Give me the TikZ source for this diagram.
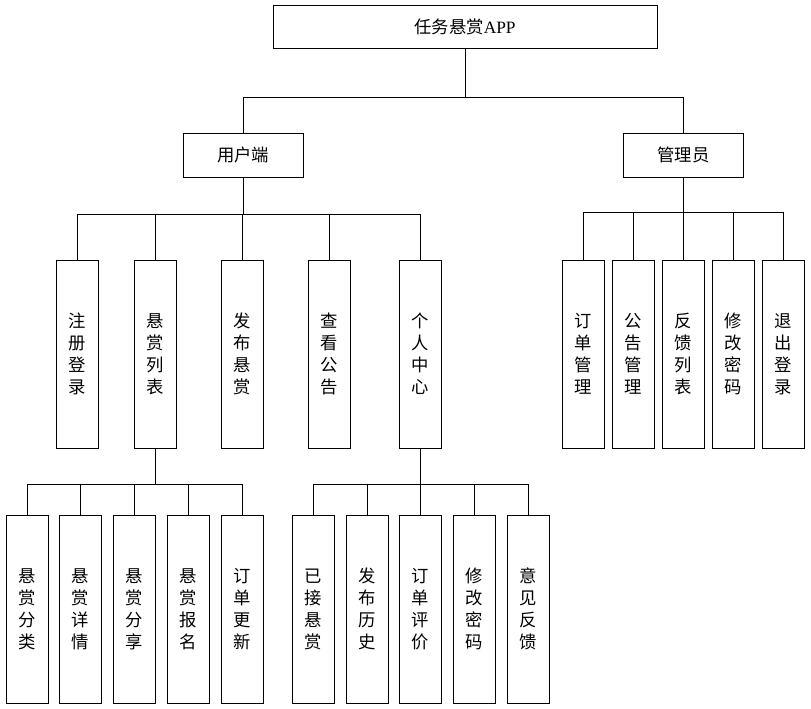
\documentclass[tikz,border=0pt]{standalone}
\usepackage{fontspec}
\setmainfont{Liberation Serif}
\newfontfamily\cjk{Noto Sans CJK SC}
\usetikzlibrary{positioning,calc}

\begin{document}
\begin{tikzpicture}[
  x=0.75pt,
  y=-0.75pt,
  box/.style={draw=black, line width=0.65pt, inner sep=0pt, font=\cjk\fontsize{13}{16.5}\selectfont},
  rootbox/.style={box, minimum width=288pt, minimum height=32.25pt},
  rolebox/.style={box, minimum width=90pt, minimum height=33pt},
  leafbox/.style={box, minimum width=31.5pt, minimum height=141pt, align=center},
  link/.style={draw=black, line width=0.65pt}
]
\useasboundingbox (0,0) rectangle (811,709);

% Root and the two roles.
\node[rootbox] (app) at (465,26.5) {任务悬赏{\rmfamily APP}};
\node[rolebox] (user) at (243,155) {用户端};
\node[rolebox] (admin) at (683.5,155) {管理员};

% User side, second level.
\foreach \n/\xx/\lab in {u1/77/注\\册\\登\\录, u2/155/悬\\赏\\列\\表, u3/242/发\\布\\悬\\赏,
                         u4/329.5/查\\看\\公\\告, u5/420/个\\人\\中\\心} {
  \node[leafbox] (\n) at (\xx,354) {\lab};
}

% Admin side, second level.
\foreach \n/\xx/\lab in {a1/583.5/订\\单\\管\\理, a2/633.5/公\\告\\管\\理, a3/683.5/反\\馈\\列\\表,
                         a4/733.5/修\\改\\密\\码, a5/783.5/退\\出\\登\\录} {
  \node[leafbox] (\n) at (\xx,354) {\lab};
}

% Third level under the reward list.
\foreach \n/\xx/\lab in {r1/27/悬\\赏\\分\\类, r2/80.5/悬\\赏\\详\\情, r3/134/悬\\赏\\分\\享,
                         r4/188/悬\\赏\\报\\名, r5/242/订\\单\\更\\新} {
  \node[leafbox] (\n) at (\xx,609) {\lab};
}

% Third level under the personal centre.
\foreach \n/\xx/\lab in {p1/313/已\\接\\悬\\赏, p2/367/发\\布\\历\\史, p3/420.5/订\\单\\评\\价,
                         p4/474.5/修\\改\\密\\码, p5/528/意\\见\\反\\馈} {
  \node[leafbox] (\n) at (\xx,609) {\lab};
}

% Connectors: down from the parent to a bus, then across and down to each child.
\foreach \c in {user,admin} {
  \draw[link] (app.south) -- ++(0,49) -| (\c.north);
}
\foreach \c in {u1,u2,u3,u4,u5} {
  \draw[link] (user.south) -- ++(0,37) -| (\c.north);
}
\foreach \c in {a1,a2,a3,a4,a5} {
  \draw[link] (admin.south) -- ++(0,35) -| (\c.north);
}
\foreach \c in {r1,r2,r3,r4,r5} {
  \draw[link] (u2.south) -- ++(0,36) -| (\c.north);
}
\foreach \c in {p1,p2,p3,p4,p5} {
  \draw[link] (u5.south) -- ++(0,36) -| (\c.north);
}
\end{tikzpicture}
\end{document}
